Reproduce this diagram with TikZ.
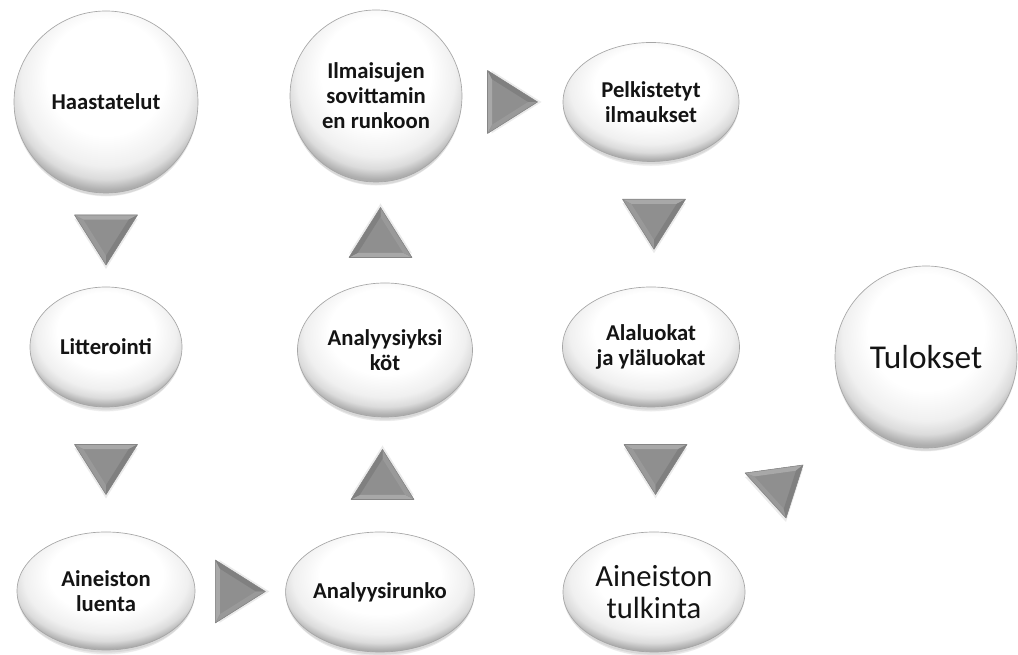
\documentclass[tikz,border=0pt]{standalone}
\usepackage{fontspec}
\setmainfont{Carlito}
\usetikzlibrary{shapes.geometric,shadows,calc}
\pgfdeclareradialshading{bubble}{\pgfpoint{0bp}{10bp}}{color(0bp)=(white); color(16bp)=(white); color(23bp)=(black!6); color(26bp)=(black!14); color(28.5bp)=(black!32); color(50bp)=(black!32)}
\newcommand\facettri[3]{%
  \coordinate (tA) at #1; \coordinate (tB) at #2; \coordinate (tC) at #3;
  \coordinate (tG) at ($(tA)!0.5!(tB)!1/3!(tC)$);
  \coordinate (ta) at ($(tG)!0.72!(tA)$);
  \coordinate (tb) at ($(tG)!0.72!(tB)$);
  \coordinate (tc) at ($(tG)!0.72!(tC)$);
  \fill[black,opacity=.08] ([yshift=-3pt]tA) -- ([yshift=-3pt]tB) -- ([yshift=-3pt]tC) -- cycle;
  \fill[trimid] (tA) -- (tB) -- (tC) -- cycle;
  \fill[tritop] (tA) -- (tB) -- (tb) -- (ta) -- cycle;
  \fill[trileft] (tA) -- (ta) -- (tc) -- (tC) -- cycle;
  \fill[triright] (tB) -- (tC) -- (tc) -- (tb) -- cycle;
  \draw[triedge] (tA) -- (tB) -- (tC) -- cycle;
}
\newcommand\flowtri[2]{%
  \begin{scope}[shift={#1}, rotate=#2]
    \facettri{(-31.5,25)}{(31.5,25)}{(0,-25)}
  \end{scope}}
\begin{document}
\begin{tikzpicture}[x=0.75pt,y=0.75pt,
  dims/.style 2 args={minimum width=#1*0.75pt, minimum height=#2*0.75pt},
  bubble/.style={ellipse, inner sep=0pt, align=center, shading=bubble,
    draw=black!35, line width=0.5pt, text=black!92,
    general shadow={shadow yshift=-2pt, fill=black, opacity=0.07},
    general shadow={shadow yshift=-4pt, shadow scale=0.98, fill=black, opacity=0.05},
    general shadow={shadow yshift=-6pt, shadow scale=0.95, fill=black, opacity=0.04},
    font=\bfseries\fontsize{17}{18.75}\selectfont},
  bigtext/.style={font=\fontsize{23}{24}\selectfont},
  hugetext/.style={font=\fontsize{25}{28}\selectfont},
  trimid/.style={fill=black!44},
  tritop/.style={fill=black!34},
  trileft/.style={fill=black!40},
  triright/.style={fill=black!50},
  triedge/.style={draw=black!48, line width=0.4pt, line join=round}]
\useasboundingbox (0,0) rectangle (1018,655);

\node[bubble, dims={184}{182}] (has) at (106,553) {Haastatelut};
\node[bubble, dims={152}{120}] (lit) at (106,308) {Litterointi};
\node[bubble, dims={178}{118}] (lue) at (106,64) {Aineiston\\luenta};
\node[bubble, dims={172}{172}] (ilm) at (376,559) {Ilmaisujen\\sovittamin\\en runkoon};
\node[bubble, dims={175}{134}] (yks) at (385,305) {Analyysiyksi\\köt};
\node[bubble, dims={186}{120}] (run) at (380,63) {Analyysirunko};
\node[bubble, dims={176}{119}] (pel) at (651,553) {Pelkistetyt\\ilmaukset};
\node[bubble, dims={177}{120}] (ala) at (651,308) {Alaluokat\\ja yläluokat};
\node[bubble, bigtext, dims={182}{120}] (tulk) at (654,63) {Aineiston\\tulkinta};
\node[bubble, hugetext, dims={182}{182}] (tul) at (926,298) {Tulokset};

\flowtri{($(has.south)!0.5!(lit.north)$)}{0}
\flowtri{($(lit.south)!0.5!(lue.north)$)}{0}
\flowtri{($(lue.east)!0.5!(run.west)$)}{90}
\flowtri{($(run.north)!0.5!(yks.south)$)}{180}
\flowtri{($(yks.north)!0.5!(ilm.south)$)}{180}
\flowtri{($(ilm.east)!0.5!(pel.west)+(0,-3)$)}{90}
\flowtri{($(pel.south)!0.5!(ala.north)+(3,0)$)}{0}
\flowtri{($(ala.south)!0.5!(tulk.north)+(3,0)$)}{0}
\facettri{(745,182)}{(803,190)}{(786,137)}
\end{tikzpicture}
\end{document}
